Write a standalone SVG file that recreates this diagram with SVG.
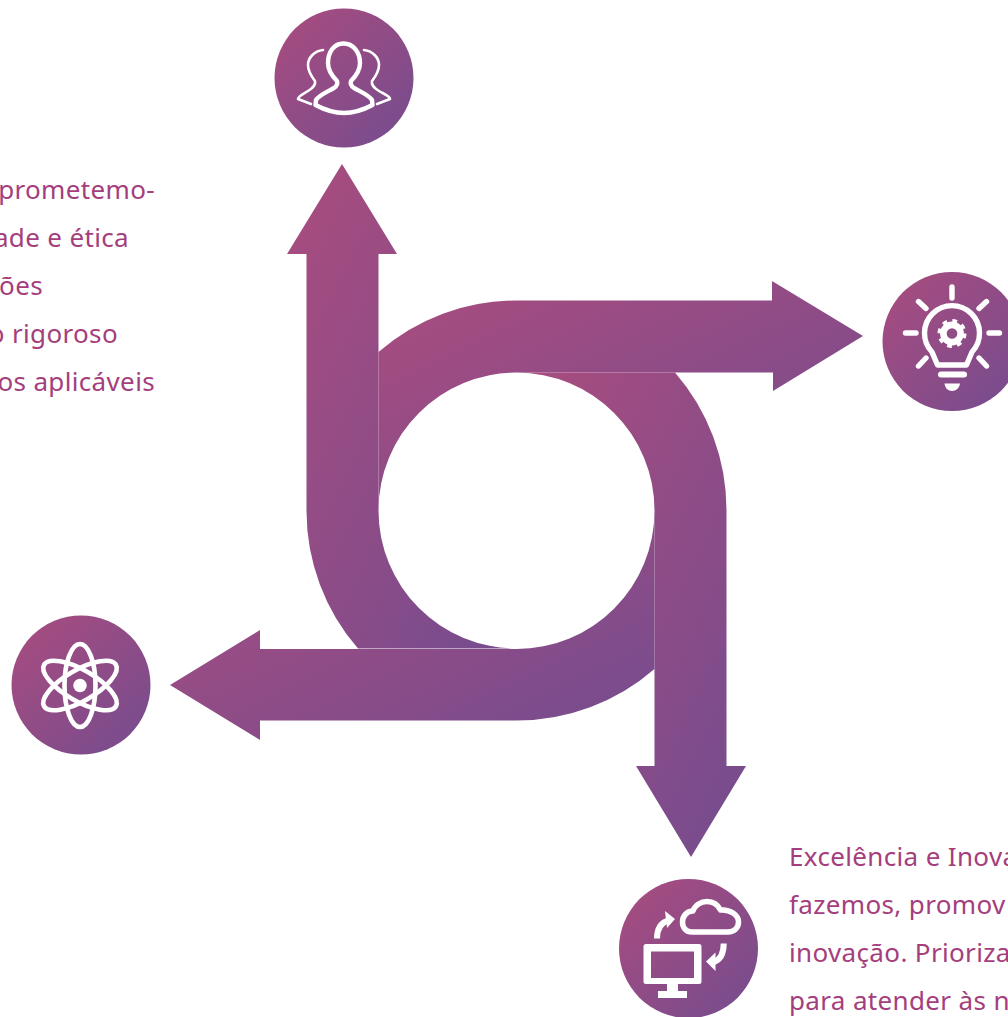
<svg xmlns="http://www.w3.org/2000/svg" width="1008" height="1017" viewBox="0 0 1008 1017">
<style>
.t{font-family:"Noto Sans","Open Sans","Liberation Sans",sans-serif;font-size:26px;letter-spacing:.35px;fill:#a43e7c}
.w{fill:none;stroke:#fff;stroke-linecap:round;stroke-linejoin:round}
.f{fill:#fff}
.c{fill:url(#g)}
</style>
<defs>
<linearGradient id="g" x1="0.1" y1="0.1" x2="0.9" y2="0.9"><stop offset="0" stop-color="#a54c80"/><stop offset="1" stop-color="#794c8d"/></linearGradient>
</defs>
<rect width="1008" height="1017" fill="#fff"/>
<g id="connectors">
<path class="c" d="M378.5,254V510.5A138,138 0 0 0 516.5,648.5H358A210,210 0 0 1 306.5,510.5V254H287L342,164L397,254Z"/>
<path class="c" d="M773,372.5H516.5A138,138 0 0 0 378.5,510.5V352A210,210 0 0 1 516.5,300.5H772V281L863,336L773,391Z"/>
<path class="c" d="M654.5,767V510.5A138,138 0 0 0 516.5,372.5H675A210,210 0 0 1 726.5,510.5V766H746L691,857L636,766H654.5Z"/>
<path class="c" d="M260,649H516.5A138,138 0 0 0 654.5,510.5V669A210,210 0 0 1 516.5,720.5H260V740L170,685L260,630Z"/>
</g>
<g id="node-people">
<circle class="c" cx="344" cy="78" r="69.5"/>
<path class="w" stroke-width="4.4" d="M343.5,43.5C334,43.5 328,52 328,63C328,71 333,77 337,81C338,84 337,86 334,88C327,92 319,95 316,100L315.500,105C325,110 335,113 344,113C353,113 363,110 372.500,105L372,100C369,95 361,92 354,88C351,86 350,84 351,81C355,77 360,71 360,63C360,52 353,43.500 343.500,43.500Z"/>
<path class="w" stroke-width="2.600" d="M323,50C314,51 308,58 308,65C308,72 312,77 315,81C316,85 313,88 308,91C303,94 298,96 298,99L311,104M364,50C373,51 379,58 379,65C379,72 375,77 372,81C371,85 374,88 379,91C384,94 390,96 390,99L377,104"/>
</g>
<g id="node-bulb">
<circle class="c" cx="952" cy="341.500" r="69.500"/>
<path class="w" stroke-width="5.400" d="M937.500,365H966.500L972,352A27.500,27.500 0 1 0 932,352Z"/>
<path class="w" stroke-width="5.400" d="M952,287V298M905.500,333H916M989,333H999.500M918.500,301.500L926,308.500M986.500,301.500L979,308.500M926,358L918.500,366M979,358L986.500,366"/>
<path class="w" stroke-width="6" d="M941,374.500H964"/>
<path class="f" d="M944.500,383.500H960C959.500,388 956,391 952,391C948,391 945,388 944.500,383.500Z"/>
<circle cx="952" cy="333.500" r="8.600" fill="none" stroke="#fff" stroke-width="6.600"/>
<circle cx="952" cy="333.500" r="12.500" fill="none" stroke="#fff" stroke-width="4" stroke-dasharray="4.600 5.217"/>
</g>
<g id="node-atom">
<circle class="c" cx="81" cy="685" r="69.500"/>
<g class="w" stroke-width="4.600">
<ellipse cx="80" cy="685.500" rx="15.500" ry="41.500"/>
<ellipse cx="80" cy="685.500" rx="15.500" ry="41.500" transform="rotate(60 80 685.500)"/>
<ellipse cx="80" cy="685.500" rx="15.500" ry="41.500" transform="rotate(-60 80 685.500)"/>
</g>
<circle class="f" cx="80" cy="685.500" r="6.700"/>
</g>
<g id="node-cloud">
<circle class="c" cx="688.500" cy="948.500" r="69.500"/>
<path class="f" fill-rule="evenodd" d="M646,944H699Q701.500,944 701.500,946.500V981.500Q701.500,984 699,984H646Q643.500,984 643.500,981.500V946.500Q643.500,944 646,944ZM651,951.500V978H694V951.500Z"/>
<rect class="f" x="667" y="984" width="11" height="7"/>
<rect class="f" x="658" y="991" width="29" height="7"/>
<path class="w" stroke-width="5.500" d="M692,932C686,932 682.500,927.500 682.500,922C682.500,916 687,911 693,911C695,905 701,901.500 707,901.500C713,901.500 718,905 720.500,910C730,909 738.500,915 738.500,922C738.500,928 734,932 728,932Z"/>
<path fill="none" stroke="#fff" stroke-width="6" d="M657,938.500Q657,924 668,920.500M723.700,943.500Q723.700,959 713.500,962"/>
<path class="f" d="M665,911L675,919L667,928ZM706,961.500L715.500,952.500V971Z"/>
</g>
<g id="text-left">
<text class="t" text-anchor="end" x="155" y="199">prometemo-</text>
<text class="t" text-anchor="end" x="129" y="247">ade e ética</text>
<text class="t" text-anchor="end" x="43" y="295">ões</text>
<text class="t" text-anchor="end" x="118" y="343">o rigoroso</text>
<text class="t" text-anchor="end" x="155" y="391">os aplicáveis</text>
</g>
<g id="text-right">
<text class="t" x="789" y="866">Excelência e Inova</text>
<text class="t" x="789" y="914">fazemos, promov</text>
<text class="t" x="789" y="962">inovação. Prioriza</text>
<text class="t" x="789" y="1010">para atender às n</text>
</g>
</svg>
